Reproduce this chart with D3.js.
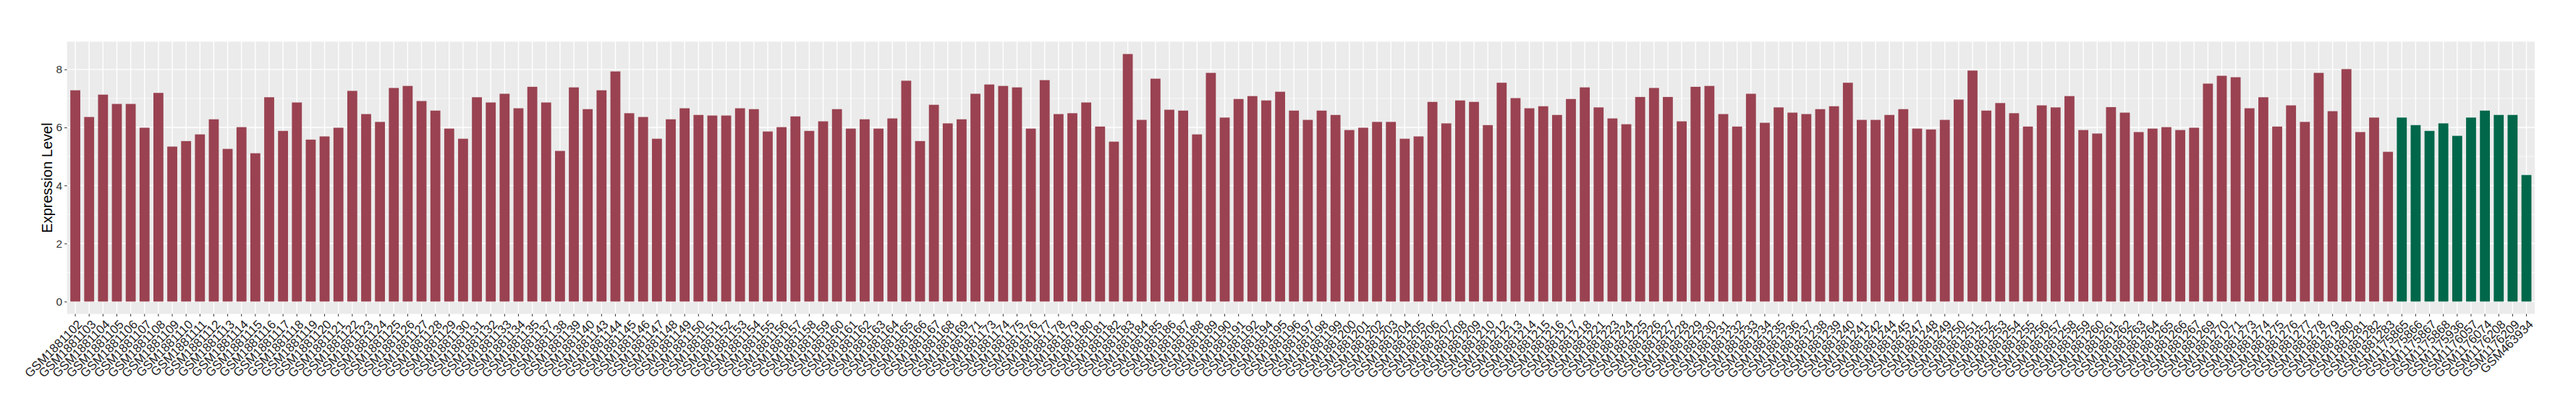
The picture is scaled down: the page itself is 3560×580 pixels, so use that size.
<!DOCTYPE html>
<html>
<head>
<meta charset="utf-8">
<script src="https://cdnjs.cloudflare.com/ajax/libs/d3/7.8.5/d3.min.js"></script>
<style>
  body { margin: 0; background: #fff; }
  text { font-family: "Liberation Sans", Arial, sans-serif; }
</style>
</head>
<body>
<div id="chart"></div>
<script>
// tumour samples (red) then normal samples (green)
var tumorSamples = [
  "GSM1881102","GSM1881103","GSM1881104","GSM1881105","GSM1881106","GSM1881107","GSM1881108","GSM1881109",
  "GSM1881110","GSM1881111","GSM1881112","GSM1881113","GSM1881114","GSM1881115","GSM1881116","GSM1881117",
  "GSM1881118","GSM1881119","GSM1881120","GSM1881121","GSM1881122","GSM1881123","GSM1881124","GSM1881125",
  "GSM1881126","GSM1881127","GSM1881128","GSM1881129","GSM1881130","GSM1881131","GSM1881132","GSM1881133",
  "GSM1881134","GSM1881135","GSM1881137","GSM1881138","GSM1881139","GSM1881140","GSM1881143","GSM1881144",
  "GSM1881145","GSM1881146","GSM1881147","GSM1881148","GSM1881149","GSM1881150","GSM1881151","GSM1881152",
  "GSM1881153","GSM1881154","GSM1881155","GSM1881156","GSM1881157","GSM1881158","GSM1881159","GSM1881160",
  "GSM1881161","GSM1881162","GSM1881163","GSM1881164","GSM1881165","GSM1881166","GSM1881167","GSM1881168",
  "GSM1881169","GSM1881171","GSM1881173","GSM1881174","GSM1881175","GSM1881176","GSM1881177","GSM1881178",
  "GSM1881179","GSM1881180","GSM1881181","GSM1881182","GSM1881183","GSM1881184","GSM1881185","GSM1881186",
  "GSM1881187","GSM1881188","GSM1881189","GSM1881190","GSM1881191","GSM1881192","GSM1881194","GSM1881195",
  "GSM1881196","GSM1881197","GSM1881198","GSM1881199","GSM1881200","GSM1881201","GSM1881202","GSM1881203",
  "GSM1881204","GSM1881205","GSM1881206","GSM1881207","GSM1881208","GSM1881209","GSM1881210","GSM1881212",
  "GSM1881213","GSM1881214","GSM1881215","GSM1881216","GSM1881217","GSM1881218","GSM1881221","GSM1881223",
  "GSM1881224","GSM1881225","GSM1881226","GSM1881227","GSM1881228","GSM1881229","GSM1881230","GSM1881231",
  "GSM1881232","GSM1881233","GSM1881234","GSM1881235","GSM1881236","GSM1881237","GSM1881238","GSM1881239",
  "GSM1881240","GSM1881241","GSM1881242","GSM1881244","GSM1881245","GSM1881247","GSM1881248","GSM1881249",
  "GSM1881250","GSM1881251","GSM1881252","GSM1881253","GSM1881254","GSM1881255","GSM1881256","GSM1881257",
  "GSM1881258","GSM1881259","GSM1881260","GSM1881261","GSM1881262","GSM1881263","GSM1881264","GSM1881265",
  "GSM1881266","GSM1881267","GSM1881269","GSM1881270","GSM1881271","GSM1881273","GSM1881274","GSM1881275",
  "GSM1881276","GSM1881277","GSM1881278","GSM1881279","GSM1881280","GSM1881281","GSM1881282","GSM1881283"
];
var tumorValues = [
  7.28,6.36,7.13,6.81,6.81,5.99,7.19,5.34,
  5.53,5.76,6.28,5.26,6.01,5.11,7.04,5.88,
  6.86,5.58,5.69,5.99,7.26,6.46,6.19,7.36,
  7.43,6.91,6.58,5.96,5.61,7.04,6.86,7.16,
  6.66,7.40,6.86,5.19,7.38,6.63,7.28,7.93,
  6.49,6.36,5.61,6.28,6.66,6.43,6.41,6.41,
  6.66,6.63,5.86,6.01,6.38,5.88,6.21,6.63,
  5.96,6.28,5.96,6.31,7.61,5.53,6.78,6.14,
  6.28,7.16,7.48,7.43,7.38,5.96,7.63,6.46,
  6.49,6.86,6.03,5.51,8.53,6.26,7.68,6.61,
  6.58,5.76,7.88,6.34,6.98,7.08,6.93,7.23,
  6.58,6.26,6.58,6.43,5.91,5.99,6.19,6.19,
  5.61,5.69,6.88,6.14,6.93,6.88,6.08,7.54,
  7.01,6.66,6.73,6.43,6.98,7.38,6.69,6.31,
  6.11,7.05,7.36,7.05,6.21,7.40,7.43,6.46,
  6.03,7.16,6.16,6.69,6.51,6.46,6.63,6.73,
  7.54,6.26,6.26,6.43,6.63,5.96,5.93,6.26,
  6.96,7.96,6.58,6.84,6.49,6.03,6.76,6.69,
  7.08,5.91,5.79,6.70,6.51,5.84,5.96,6.01,
  5.91,5.99,7.51,7.78,7.73,6.66,7.04,6.03,
  6.76,6.19,7.88,6.56,8.01,5.84,6.34,5.16
];
var normalSamples = ["GSM1175865","GSM1175866","GSM1175867","GSM1175868","GSM1175936",
  "GSM1176057","GSM1176074","GSM1176208","GSM1176209","GSM463934"];
var normalValues = [6.34,6.08,5.88,6.14,5.71,6.34,6.58,6.43,6.43,4.36];

var yTicks = [0, 2, 4, 6, 8];
var yMinorTicks = [1, 3, 5, 7];
var colors = { tumor: "#9A4251", normal: "#00674A" };

var data = tumorSamples.map(function(s, i) {
  return { sample: s, value: tumorValues[i], group: "tumor" };
}).concat(normalSamples.map(function(s, i) {
  return { sample: s, value: normalValues[i], group: "normal" };
}));

var W = 3560, H = 580;
var margin = { left: 92.6, right: W - 3503, top: 57.5, bottom: H - 433.5 };
var w = W - margin.left - margin.right,
    h = H - margin.top - margin.bottom;

var svg = d3.select("#chart")
  .append("svg")
  .attr("width", W)
  .attr("height", H);

var g = svg.append("g")
  .attr("transform", "translate(" + margin.left + "," + margin.top + ")");

// ggplot-like expansion: 0.6 of a step on each side
var x = d3.scaleBand()
  .domain(data.map(function(d) { return d.sample; }))
  .range([0, w])
  .paddingInner(0.28)
  .paddingOuter(0.24);

var yMax = d3.max(data, function(d) { return d.value; });
var y = d3.scaleLinear()
  .domain([-0.05 * yMax, 1.05 * yMax])
  .range([h, 0]);

// panel background
g.append("rect")
  .attr("width", w)
  .attr("height", h)
  .attr("fill", "#EBEBEB");

// grid
g.selectAll(".minor")
  .data(yMinorTicks)
  .enter().append("line")
  .attr("x1", 0).attr("x2", w)
  .attr("y1", function(d) { return y(d); })
  .attr("y2", function(d) { return y(d); })
  .attr("stroke", "#fff").attr("stroke-width", 0.7);

g.selectAll(".major")
  .data(yTicks)
  .enter().append("line")
  .attr("x1", 0).attr("x2", w)
  .attr("y1", function(d) { return y(d); })
  .attr("y2", function(d) { return y(d); })
  .attr("stroke", "#fff").attr("stroke-width", 1.4);

g.selectAll(".vgrid")
  .data(data)
  .enter().append("line")
  .attr("x1", function(d) { return x(d.sample) + x.bandwidth() / 2; })
  .attr("x2", function(d) { return x(d.sample) + x.bandwidth() / 2; })
  .attr("y1", 0).attr("y2", h)
  .attr("stroke", "#fff").attr("stroke-width", 1.4);

// bars
g.selectAll(".bar")
  .data(data)
  .enter().append("rect")
  .attr("class", "bar")
  .attr("x", function(d) { return x(d.sample); })
  .attr("y", function(d) { return y(d.value); })
  .attr("width", x.bandwidth())
  .attr("height", function(d) { return y(0) - y(d.value); })
  .attr("fill", function(d) { return colors[d.group]; });

// axes
var yAxis = g.append("g")
  .call(d3.axisLeft(y).tickValues(yTicks).tickSize(3.5).tickPadding(3).tickFormat(d3.format("d")));
yAxis.select(".domain").remove();
yAxis.selectAll("line").attr("stroke", "#333");
yAxis.selectAll("text")
  .attr("fill", "#333")
  .style("font-size", "15.5px");

var xAxis = g.append("g")
  .attr("transform", "translate(0," + h + ")")
  .call(d3.axisBottom(x).tickSize(3.5).tickPadding(0));
xAxis.select(".domain").remove();
xAxis.selectAll("line").attr("stroke", "#333");
xAxis.selectAll("text")
  .attr("fill", "#222")
  .style("font-size", "17px")
  .attr("text-anchor", "end")
  .attr("dy", null)
  .attr("y", 0)
  .attr("transform", "translate(2,7) rotate(-45)")
  .attr("dominant-baseline", "hanging");

// y title
svg.append("text")
  .attr("transform", "translate(71.5," + (margin.top + h / 2) + ") rotate(-90)")
  .attr("text-anchor", "middle")
  .style("font-size", "20px")
  .attr("fill", "#000")
  .text("Expression Level");
</script>
</body>
</html>
